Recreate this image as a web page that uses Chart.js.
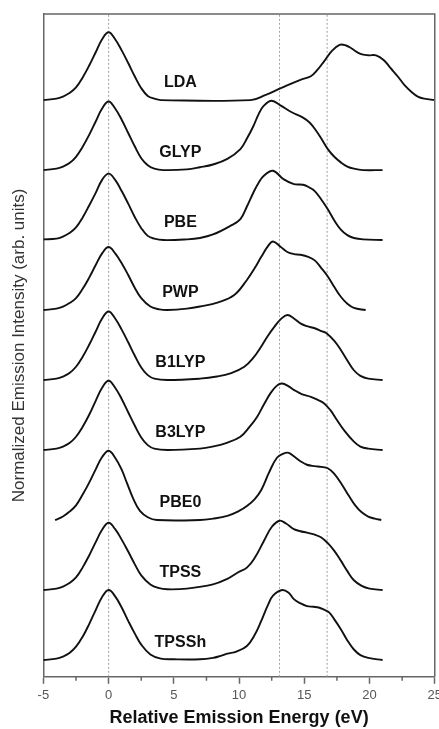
<!DOCTYPE html>
<html>
<head>
<meta charset="utf-8">
<script src="https://cdn.jsdelivr.net/npm/chart.js@4"></script>
<style>
  html, body { margin: 0; padding: 0; background: #fff; overflow: hidden; }
  #wrap { width: 446px; height: 729px; }
</style>
</head>
<body>
<div id="wrap"><canvas id="chart" width="446" height="729"></canvas></div>
<script>
// spectra: [energy (eV), normalized intensity]
const names = ['LDA', 'GLYP', 'PBE', 'PWP', 'B1LYP', 'B3LYP', 'PBE0', 'TPSS', 'TPSSh'];
const offsets = [8, 7, 6, 5, 4, 3, 2, 1, 0];

const lda = [[-5,0],[-4,0.02],[-3.5,0.05],[-3,0.1],[-2.5,0.18],[-2,0.32],[-1.5,0.49],[-1,0.68],[-0.5,0.87],[0,0.97],[0.5,0.87],[1,0.71],[1.5,0.53],[2,0.34],[2.5,0.17],[3,0.06],[3.5,0.02],[4,0],
  [10.9,0],[12,0.07],[13.2,0.17],[14.7,0.29],[15.5,0.34],[16,0.43],[16.5,0.55],[17.1,0.7],[17.7,0.79],[18.2,0.78],[18.6,0.74],[19.3,0.66],[19.9,0.64],[20.5,0.64],[21.1,0.57],[21.6,0.46],[22.2,0.33],[22.7,0.21],[23.2,0.12],[23.7,0.05],[24.2,0.02],[25,0]];
const glyp = [[-5,0],[-4,0.02],[-3.5,0.05],[-3,0.1],[-2.5,0.19],[-2,0.33],[-1.5,0.5],[-1,0.69],[-0.5,0.88],[0,0.98],[0.5,0.88],[1,0.72],[1.5,0.53],[2,0.34],[2.5,0.17],[3,0.07],[3.5,0.02],[4.2,0],
  [6,0.01],[7,0.04],[8,0.08],[9.1,0.16],[10.1,0.3],[10.6,0.45],[11.1,0.63],[11.5,0.8],[11.9,0.92],[12.5,0.99],[13.2,0.92],[14,0.83],[14.9,0.75],[15.4,0.68],[15.8,0.59],[16.3,0.45],[16.8,0.3],[17.3,0.19],[17.8,0.11],[18.3,0.05],[18.8,0.02],[19.5,0],[21,0]];
const pbe = [[-5,0.01],[-4,0.02],[-3.5,0.05],[-3,0.1],[-2.5,0.18],[-2,0.32],[-1.5,0.49],[-1,0.67],[-0.5,0.86],[0,0.95],[0.5,0.86],[1,0.7],[1.5,0.52],[2,0.33],[2.5,0.17],[3,0.06],[3.5,0.02],[4.2,0],
  [6,0.01],[7,0.03],[8,0.08],[9.3,0.2],[10.1,0.3],[10.6,0.48],[11.1,0.68],[11.5,0.82],[11.9,0.92],[12.6,0.99],[13.4,0.87],[14.2,0.8],[14.9,0.79],[15.4,0.75],[15.8,0.7],[16.3,0.58],[16.8,0.44],[17.3,0.28],[17.8,0.15],[18.3,0.07],[18.8,0.03],[19.5,0.01],[21,0]];
const pwp = [[-5,0],[-4,0.02],[-3.5,0.05],[-3,0.1],[-2.5,0.17],[-2,0.3],[-1.5,0.46],[-1,0.64],[-0.5,0.81],[0,0.9],[0.5,0.81],[1,0.67],[1.5,0.5],[2,0.32],[2.5,0.17],[3.2,0.05],[3.9,0.01],[4.5,0],
  [6,0.02],[7,0.05],[8.4,0.11],[9.6,0.21],[10.6,0.43],[11.2,0.6],[11.7,0.76],[12.2,0.91],[12.6,0.98],[13.2,0.9],[13.7,0.83],[14.2,0.8],[14.7,0.79],[15.3,0.76],[15.8,0.71],[16.3,0.6],[16.8,0.48],[17.3,0.33],[17.8,0.19],[18.3,0.09],[18.8,0.03],[19.7,0]];
const b1lyp = [[-5,0],[-4,0.02],[-3.5,0.05],[-3,0.1],[-2.5,0.19],[-2,0.33],[-1.5,0.5],[-1,0.69],[-0.5,0.88],[0,0.98],[0.5,0.88],[1,0.72],[1.5,0.54],[2,0.35],[2.5,0.18],[3,0.07],[3.5,0.02],[4.5,0],
  [7,0.02],[8.3,0.05],[9.4,0.1],[10.4,0.19],[11.1,0.32],[11.7,0.48],[12.2,0.63],[12.7,0.76],[13.2,0.87],[13.7,0.93],[14.2,0.88],[14.7,0.81],[15.2,0.77],[15.8,0.74],[16.3,0.7],[16.7,0.67],[17.3,0.56],[17.8,0.43],[18.3,0.28],[18.8,0.14],[19.3,0.06],[19.9,0.02],[21,0]];
const b3lyp = [[-5,0],[-4,0.02],[-3.5,0.05],[-3,0.1],[-2.5,0.19],[-2,0.33],[-1.5,0.5],[-1,0.7],[-0.5,0.89],[0,0.99],[0.5,0.89],[1,0.73],[1.5,0.54],[2,0.35],[2.5,0.18],[3,0.07],[3.5,0.02],[4.5,0],
  [7,0.02],[8,0.05],[9,0.1],[10.1,0.19],[10.8,0.33],[11.4,0.48],[11.9,0.65],[12.4,0.81],[12.9,0.92],[13.3,0.95],[13.8,0.91],[14.2,0.86],[14.8,0.8],[15.5,0.76],[16,0.72],[16.5,0.67],[17,0.57],[17.5,0.43],[18.1,0.27],[18.8,0.12],[19.3,0.05],[19.9,0.02],[21,0]];
const pbe0 = [[-4.1,0],[-3.5,0.05],[-3,0.12],[-2.5,0.21],[-2,0.36],[-1.5,0.53],[-1,0.72],[-0.5,0.9],[0,0.99],[0.5,0.89],[1,0.72],[1.4,0.53],[1.9,0.3],[2.4,0.13],[3,0.04],[3.7,0],
  [7,0],[8,0.02],[9.1,0.06],[10,0.13],[10.6,0.2],[11.2,0.3],[11.7,0.43],[12.3,0.68],[12.9,0.89],[13.4,0.95],[13.8,0.96],[14.2,0.91],[14.7,0.84],[15.2,0.79],[15.8,0.77],[16.3,0.76],[16.8,0.74],[17.3,0.66],[17.9,0.5],[18.4,0.35],[18.9,0.21],[19.4,0.11],[19.9,0.05],[20.4,0.02],[20.9,0]];
const tpss = [[-5,0],[-4,0.02],[-3.5,0.05],[-3,0.1],[-2.5,0.18],[-2,0.32],[-1.5,0.49],[-1,0.68],[-0.5,0.86],[0,0.96],[0.5,0.87],[1,0.72],[1.5,0.55],[2,0.37],[2.5,0.21],[3.2,0.08],[3.8,0.03],[4.5,0.01],
  [6,0.02],[8,0.08],[9.1,0.16],[9.9,0.25],[10.6,0.32],[11.2,0.46],[11.9,0.7],[12.5,0.9],[13.1,0.99],[13.6,0.95],[14.2,0.87],[14.7,0.84],[15.2,0.82],[15.8,0.79],[16.3,0.75],[16.8,0.67],[17.3,0.56],[17.8,0.42],[18.3,0.27],[18.8,0.14],[19.4,0.06],[20,0.02],[21,0]];
const tpssh = [[-5,0],[-4,0.02],[-3.5,0.05],[-3,0.1],[-2.5,0.19],[-2,0.33],[-1.5,0.51],[-1,0.71],[-0.5,0.9],[0,1.0],[0.5,0.91],[1,0.75],[1.5,0.56],[2,0.38],[2.5,0.22],[3.2,0.08],[4,0.02],[5,0.01],
  [7,0.01],[8,0.03],[8.6,0.06],[9.1,0.09],[9.8,0.12],[10.6,0.2],[11.2,0.36],[11.7,0.56],[12.2,0.78],[12.6,0.92],[13.3,1.0],[13.8,0.96],[14.2,0.87],[14.7,0.81],[15.2,0.77],[15.7,0.76],[16.1,0.75],[16.5,0.72],[16.9,0.68],[17.3,0.58],[17.8,0.44],[18.3,0.28],[18.8,0.15],[19.3,0.07],[19.9,0.03],[21,0]];
const spectra = [lda, glyp, pbe, pwp, b1lyp, b3lyp, pbe0, tpss, tpssh];

const guideEnergies = [0, 13.1, 16.75];
const xTicks = [-5, 0, 5, 10, 15, 20, 25];
const minorTicks = [-2.5, 2.5, 7.5, 12.5, 17.5, 22.5];
const labelEnergy = 5.5;
const labelLift = 0.25;
const yMin = -0.24, yMax = 9.23;

const font = "Arial, 'Liberation Sans', sans-serif";

const datasets = [];
spectra.forEach((pts, i) => {
  datasets.push({
    label: names[i],
    data: pts.map(p => ({ x: p[0], y: p[1] + offsets[i] })),
    borderColor: '#111',
    borderWidth: 1.9,
    pointRadius: 0,
    tension: 0.4,
    fill: false,
    order: 0
  });
});
guideEnergies.forEach(e => {
  datasets.push({
    label: 'guide',
    data: [{ x: e, y: yMin }, { x: e, y: yMax }],
    borderColor: '#a0a0a0',
    borderWidth: 1,
    borderDash: [2, 2],
    pointRadius: 0,
    order: 1
  });
});

const extras = {
  id: 'extras',
  afterDatasetsDraw(chart) {
    const { ctx, chartArea: a, scales } = chart;
    ctx.save();
    // top and right frame
    ctx.strokeStyle = '#666';
    ctx.lineWidth = 1.5;
    ctx.beginPath();
    ctx.moveTo(a.left, a.top);
    ctx.lineTo(a.right, a.top);
    ctx.lineTo(a.right, a.bottom);
    ctx.stroke();
    // minor ticks on the x axis
    ctx.beginPath();
    minorTicks.forEach(v => {
      const px = scales.x.getPixelForValue(v);
      ctx.moveTo(px, a.bottom);
      ctx.lineTo(px, a.bottom + 4);
    });
    ctx.stroke();
    // functional names
    ctx.fillStyle = '#111';
    ctx.font = 'bold 16px ' + font;
    ctx.textAlign = 'center';
    ctx.textBaseline = 'middle';
    names.forEach((n, i) => {
      ctx.fillText(n, scales.x.getPixelForValue(labelEnergy), scales.y.getPixelForValue(offsets[i] + labelLift));
    });
    ctx.restore();
  }
};

new Chart(document.getElementById('chart'), {
  type: 'line',
  data: { datasets },
  plugins: [extras],
  options: {
    responsive: false,
    animation: false,
    events: [],
    layout: { padding: { left: 5, top: 14, right: 0, bottom: 0 } },
    plugins: { legend: { display: false }, tooltip: { enabled: false } },
    scales: {
      x: {
        type: 'linear',
        min: -5,
        max: 25,
        afterBuildTicks: s => { s.ticks = xTicks.map(v => ({ value: v })); },
        ticks: { color: '#555', font: { family: font, size: 13 }, padding: 4, maxRotation: 0 },
        grid: { drawOnChartArea: false, tickLength: 7, tickColor: '#666', tickWidth: 1.5 },
        border: { color: '#666', width: 1.5 },
        title: {
          display: true,
          text: 'Relative Emission Energy (eV)',
          color: '#111',
          font: { family: font, size: 18, weight: 'bold' },
          padding: { top: 0, bottom: 0 }
        }
      },
      y: {
        type: 'linear',
        min: yMin,
        max: yMax,
        ticks: { display: false },
        grid: { display: false, drawTicks: false },
        border: { color: '#666', width: 1.5 },
        title: {
          display: true,
          text: 'Normalized Emission Intensity (arb. units)',
          color: '#333',
          font: { family: font, size: 17 },
          padding: { top: 4, bottom: 14 }
        }
      }
    }
  }
});
</script>
</body>
</html>
